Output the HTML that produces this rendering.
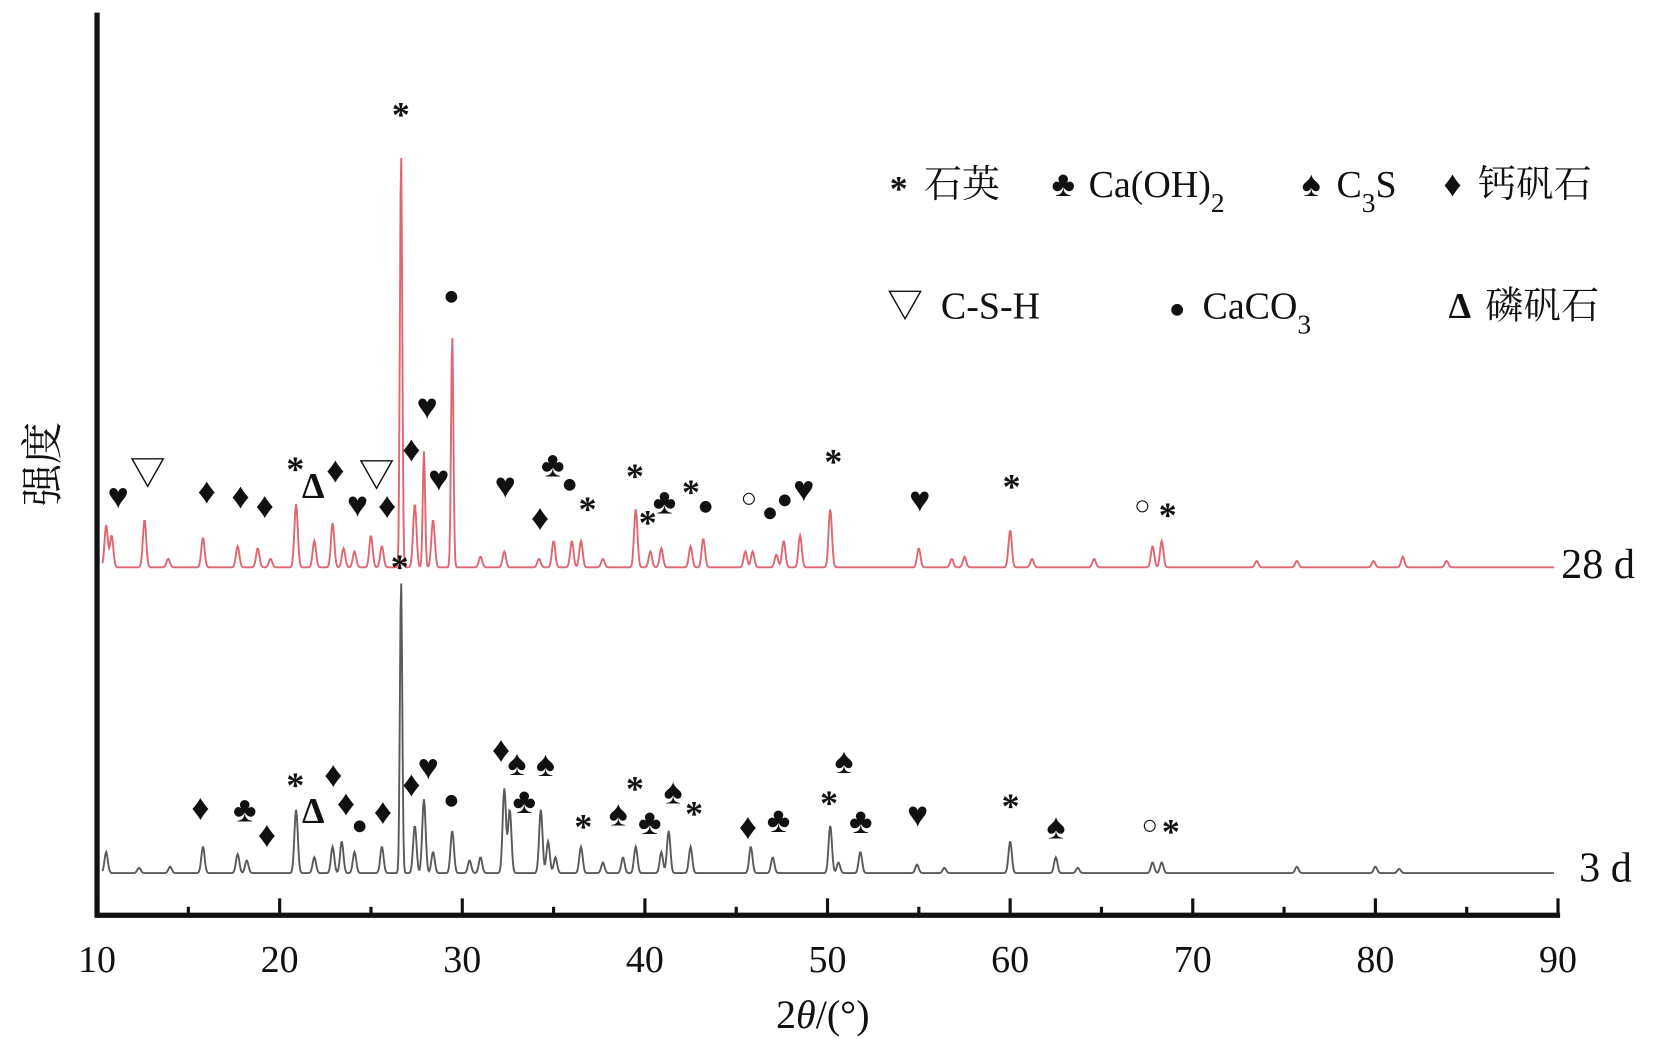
<!DOCTYPE html>
<html><head><meta charset="utf-8"><style>
html,body{margin:0;padding:0;background:#fff;}
svg{display:block;}
text{font-family:"Liberation Serif","Noto Serif CJK SC",serif;}
</style></head><body>
<svg id="chart" width="1654" height="1046" viewBox="0 0 1568 992" preserveAspectRatio="none" xmlns="http://www.w3.org/2000/svg">
<g id="plot"></g>
</svg>
<script>
// data: peak positions (2θ) and relative heights (px in plot units)
const pos28 = [10.5,10.8,12.6,13.9,15.8,17.7,18.8,19.5,20.9,21.9,22.9,23.5,24.1,25.0,25.6,26.65,27.4,27.9,28.4,29.45,31.0,32.3,34.2,35.0,36.0,36.5,37.7,39.5,40.3,40.9,42.5,43.2,45.5,45.9,47.2,47.6,48.5,50.15,55.0,56.8,57.5,60.0,61.2,64.6,67.8,68.3,73.5,75.7,79.9,81.5,83.9];
const int28 = [40,30,45,8,28,20,18,8,60,25,42,18,15,30,20,393,60,110,45,220,10,15,8,25,25,25,8,55,15,18,20,27,15,15,12,25,30,55,18,8,10,35,8,8,20,25,6,6,6,10,6];
const pos3 = [10.5,12.3,14,15.8,17.7,18.2,20.9,21.9,22.9,23.4,24.1,25.6,26.65,27.4,27.9,28.4,29.45,30.4,31,32.3,32.6,34.3,34.7,35.1,36.5,37.7,38.8,39.5,40.9,41.3,42.5,45.8,47.0,50.15,50.6,51.8,54.9,56.4,60.0,62.5,63.7,67.8,68.3,75.7,80.0,81.3];
const int3 = [20,5,6,25,18,12,60,15,25,30,20,25,278,45,70,20,40,12,15,80,60,60,30,15,25,10,15,25,20,40,25,25,15,45,10,20,8,5,30,15,5,10,10,6,6,4];
const ticks = [10,20,30,40,50,60,70,80,90];
const minorTicks = [15,25,35,45,55,65,75,85];

const NS="http://www.w3.org/2000/svg";
const g=document.getElementById('plot');
const X0=92,X1=1477;
function xs(v){return X0+(v-10)*(X1-X0)/80;}
function mk(tag,attrs,parent){const e=document.createElementNS(NS,tag);for(const k in attrs)e.setAttribute(k,attrs[k]);(parent||g).appendChild(e);return e;}
function series(pos,inten,base,color,name){
  let d='';
  for(let t=10.3;t<=89.8;t+=0.04){
    let y=0;
    for(let i=0;i<pos.length;i++){const w=(inten[i]>100?0.09:0.13);y+=inten[i]*Math.exp(-Math.pow((t-pos[i])/w,2));}
    d+=(d?'L':'M')+xs(t).toFixed(1)+','+(base-y).toFixed(1);
  }
  const p=mk('path',{d:d,fill:'none',stroke:color,'stroke-width':1.8});
  
  
}
series(pos28,int28,538,'#e06672','series-28d');
series(pos3,int3,828,'#5a5a5a','series-3d');

const ya=mk('line',{x1:92,y1:12,x2:92,y2:870,stroke:'#111','stroke-width':5});


const xa=mk('line',{x1:90,y1:868,x2:1479,y2:868,stroke:'#111','stroke-width':5});


ticks.forEach(v=>{
  const l=mk('line',{x1:xs(v),y1:866,x2:xs(v),y2:852,stroke:'#111','stroke-width':3});
  
  
  const t=mk('text',{x:xs(v),y:922,'font-size':36,'text-anchor':'middle',fill:'#111'});
  t.textContent=v;
  
  
});
minorTicks.forEach(v=>{
  const l=mk('line',{x1:xs(v),y1:866,x2:xs(v),y2:860,stroke:'#111','stroke-width':3});
  
  
});
const xt=mk('text',{x:780,y:975,'font-size':38,'text-anchor':'middle',fill:'#111'});
xt.innerHTML='2<tspan font-style="italic">θ</tspan>/(°)';


const yt=mk('text',{x:0,y:0,'font-size':40,'text-anchor':'middle',fill:'#111',transform:'translate(54,440) rotate(-90)'});
yt.textContent='强度';


const l28=mk('text',{x:1480,y:548,'font-size':40,fill:'#111'});l28.textContent='28 d';


const l3=mk('text',{x:1497,y:836,'font-size':40,fill:'#111'});l3.textContent='3 d';



const m28=[['♥',112,470],['▽',140,448],['♦',196,465],['♦',228,470],['♦',251,479],['*',280,440],['Δ',297,460],['♦',318,445],['♥',339,478],['▽',357,450],['♦',367,479],['*',380,104],['♦',390,425],['♥',405,385],['♥',416,453],['●',428,280],['♥',479,460],['♦',512,490],['♣',524,440],['●',540,458],['*',557,478],['*',602,447],['*',614,491],['♣',630,475],['*',655,462],['●',669,479],['○',710,472],['●',730,485],['●',744,473],['♥',762,463],['*',790,433],['♥',872,473],['*',959,457],['○',1083,479],['*',1107,484]];
const m3=[['♦',190,765],['♣',232,767],['♦',253,791],['*',280,740],['Δ',297,768],['♦',316,734],['♦',328,761],['●',341,782],['♦',363,769],['*',379,533],['♦',390,743],['♥',406,727],['●',428,758],['♦',475,710],['♠',490,723],['♣',497,759],['♠',517,724],['*',553,779],['♠',586,771],['*',602,743],['♣',616,779],['♠',638,750],['*',658,767],['♦',709,783],['♣',738,777],['*',786,757],['♠',800,721],['♣',816,778],['♥',870,772],['*',958,760],['♠',1001,783],['○',1090,782],['*',1110,784]];
[...m28,...m3].forEach(m=>{
  const small=(m[0]==='●'||m[0]==='○');
  const t=mk('text',{x:m[1],y:m[2]+(m[0]==='*'?16:(small?9:12)),'font-size':small?26:34,'text-anchor':'middle',fill:'#111','font-family':'DejaVu Sans, sans-serif','font-weight':'bold'});
  t.textContent=m[0];
  
  
});

const leg=[['*','石英',852,175],['♣','Ca(OH)<tspan baseline-shift="sub" font-size="26">2</tspan>',1008,175],['♠','C<tspan baseline-shift="sub" font-size="26">3</tspan>S',1243,175],['♦','钙矾石',1377,175],['▽','C-S-H',858,290],['●','CaCO<tspan baseline-shift="sub" font-size="26">3</tspan>',1116,290],['Δ','磷矾石',1384,290]];
leg.forEach(e=>{
  const s=mk('text',{x:e[2],y:e[3]+(e[0]==='*'?15:11),'font-size':e[0]==='●'?26:34,'text-anchor':'middle',fill:'#111','font-family':'DejaVu Sans, sans-serif','font-weight':'bold'});
  s.textContent=e[0];
  
  
  const t=mk('text',{x:e[2]+(e[0]==='▽'?34:24),y:e[3]+12,'font-size':36,fill:'#111'});
  t.innerHTML=e[1];
  
  
});
</script>
</body></html>
